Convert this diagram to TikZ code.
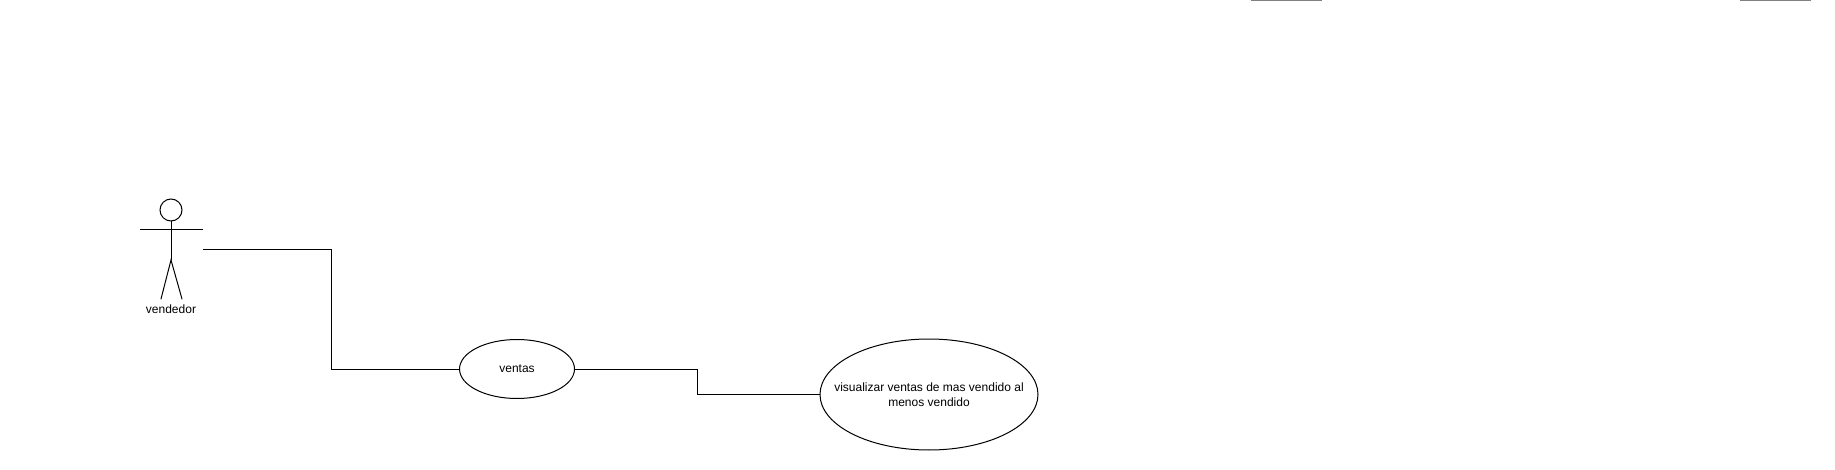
\documentclass[tikz,border=0pt]{standalone}
\usepackage{fontspec}
\setmainfont{Liberation Sans}
\usetikzlibrary{shapes,positioning}
\tikzstyle{line} = [draw, line width=1pt]
\tikzstyle{cutline} = [draw=black!50, line width=1pt]
\tikzstyle{stick} = [draw, line width=1pt, line cap=round]
\tikzstyle{usecase} = [ellipse, draw, line width=1pt, inner sep=0pt, outer sep=0pt, align=center, font=\fontsize{12}{15}\selectfont]
\tikzstyle{head} = [circle, draw, line width=1pt, inner sep=0pt, outer sep=0pt, minimum size=22pt]
\tikzstyle{actorlabel} = [inner sep=0pt, font=\fontsize{12}{15}\selectfont]
\begin{document}
\begin{tikzpicture}[x=1pt, y=-1pt]
			\useasboundingbox (0,0) rectangle (1835,470);
			\node [head] (head) at (171,210) {};
			\coordinate (arm_l) at (140,230);
			\coordinate (arm_r) at (203,230);
			\coordinate (hip) at (171,260);
			\coordinate (foot_l) at (161,299);
			\coordinate (foot_r) at (182,299);
			\draw [stick] (head.south) -- (hip);
			\draw [line] (arm_l) -- (arm_r);
			\draw [stick] (foot_l) -- (hip) -- (foot_r);
			\node [actorlabel, below=5.5pt of hip |- foot_l] (vendedor) {vendedor};
			
			\node [usecase, minimum width=115pt, minimum height=59pt] (ventas) at (517,369) {ventas};
			\node [usecase, inner xsep=-20pt, minimum width=218pt, minimum height=111pt] (visualizar) at (929,394.5) {visualizar ventas de mas vendido al\\menos vendido};
			
			\coordinate (actor_out) at (203,250);
			\coordinate (elbow_a) at (331.5,369);
			\coordinate (elbow_b) at (697.5,369);
			\draw [line] (actor_out) -| (elbow_a) -- (ventas.west);
			\draw [line] (ventas.east) -- (elbow_b) |- (visualizar.west);
			
			% cut off at the top edge
			\coordinate (top_a) at (1251,0.5);
			\coordinate (top_b) at (1322,0.5);
			\coordinate (top_c) at (1740,0.5);
			\coordinate (top_d) at (1811,0.5);
			\draw [cutline] (top_a) -- (top_b);
			\draw [cutline] (top_c) -- (top_d);
		\end{tikzpicture}
\end{document}
